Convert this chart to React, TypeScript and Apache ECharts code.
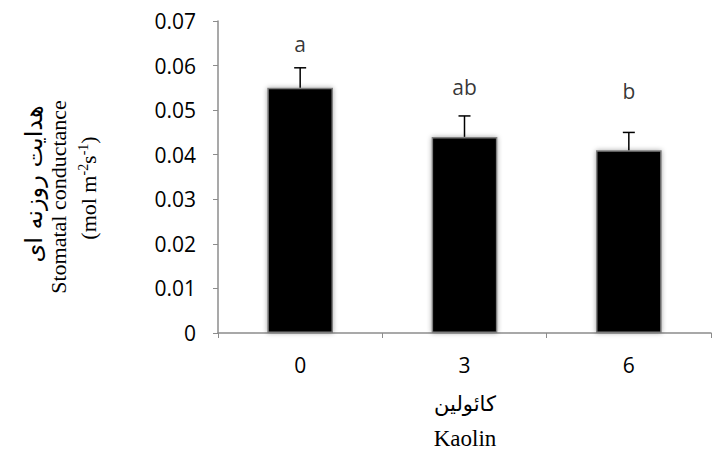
import React, { useEffect, useRef } from "react";
import * as echarts from "echarts";

const categories = ["0", "3", "6"];
const means = [0.055, 0.044, 0.041];
const errTops = [0.0595, 0.0487, 0.045];
const letters = ["a", "ab", "b"];
const letterY = [0.0648, 0.0552, 0.0542];

export default function App() {
  const ref = useRef<HTMLDivElement>(null);
  useEffect(() => {
    document.body.style.margin = "0";
    const chart = echarts.init(ref.current!, null, { renderer: "svg" });
    chart.setOption({
      animation: false,
      backgroundColor: "#ffffff",
      grid: { left: 218, right: 1, top: 21, bottom: 119 },
      xAxis: {
        type: "category",
        data: categories,
        axisLine: { lineStyle: { color: "#8c8c8c", width: 1.5 } },
        axisTick: { show: true, length: 5, lineStyle: { color: "#8c8c8c" } },
        axisLabel: { color: "#000", fontSize: 21, fontFamily: "Open Sans", margin: 21 },
      },
      yAxis: {
        type: "value",
        min: 0,
        max: 0.07,
        interval: 0.01,
        splitLine: { show: false },
        axisLine: { show: true, lineStyle: { color: "#8c8c8c", width: 1.5 } },
        axisTick: { show: true, length: 5, lineStyle: { color: "#8c8c8c" } },
        axisLabel: {
          color: "#000",
          fontSize: 21,
          fontFamily: "Open Sans",
          margin: 22,
          formatter: (v: number) => (v === 0 ? "0" : v.toFixed(2)),
        },
      },
      series: [
        {
          type: "bar",
          data: means,
          barWidth: "40%",
          itemStyle: {
            color: "#000",
            borderColor: "#7f7f7f",
            borderWidth: 1.5,
            shadowColor: "rgba(0,0,0,0.35)",
            shadowBlur: 5,
          },
        },
        {
          type: "custom",
          data: errTops.map((e, i) => [i, means[i], e]),
          renderItem: (params: any, api: any) => {
            const x = api.coord([api.value(0), api.value(1)])[0];
            const y0 = api.coord([api.value(0), api.value(1)])[1];
            const y1 = api.coord([api.value(0), api.value(2)])[1];
            const style = { stroke: "#000", lineWidth: 1.5 };
            return {
              type: "group",
              children: [
                { type: "line", shape: { x1: x, y1: y0, x2: x, y2: y1 }, style },
                { type: "line", shape: { x1: x - 6, y1: y1, x2: x + 6, y2: y1 }, style },
              ],
            };
          },
          z: 5,
        },
        {
          type: "scatter",
          data: letterY.map((v, i) => [i, v]),
          symbolSize: 0,
          label: {
            show: true,
            position: "inside",
            formatter: (p: any) => letters[p.dataIndex],
            color: "#000",
            fontSize: 21,
            fontFamily: "Open Sans",
          },
        },
      ],
      graphic: [
        {
          type: "text",
          x: 465,
          y: 404,
          style: {
            text: "کائولین",
            font: "21px 'DejaVu Sans', 'Noto Sans', serif",
            fill: "#000",
            align: "center",
            verticalAlign: "middle",
          },
        },
        {
          type: "text",
          x: 465,
          y: 438,
          style: {
            text: "Kaolin",
            font: "23px 'Liberation Serif', serif",
            fill: "#000",
            align: "center",
            verticalAlign: "middle",
          },
        },
        {
          type: "text",
          x: 34,
          y: 184,
          rotation: Math.PI / 2,
          style: {
            text: "هدایت روزنه ای",
            font: "24px 'DejaVu Sans', 'Noto Sans', serif",
            fill: "#000",
            align: "center",
            verticalAlign: "middle",
          },
        },
        {
          type: "text",
          x: 58,
          y: 197,
          rotation: Math.PI / 2,
          style: {
            text: "Stomatal conductance",
            font: "22px 'Liberation Serif', serif",
            fill: "#000",
            align: "center",
            verticalAlign: "middle",
          },
        },
        {
          type: "text",
          x: 88,
          y: 188,
          rotation: Math.PI / 2,
          style: {
            text: "{n|(mol m}{s|-2}{n|s}{s|-1}{n|)}",
            fill: "#000",
            align: "center",
            verticalAlign: "middle",
            rich: {
              n: { font: "22px 'Liberation Serif', serif", fill: "#000", verticalAlign: "bottom" },
              s: { font: "14px 'Liberation Serif', serif", fill: "#000", verticalAlign: "top", padding: [0, 0, 9, 0] },
            },
          },
        },
      ],
    });
    return () => chart.dispose();
  }, []);
  return <div ref={ref} style={{ width: 712, height: 452 }} />;
}
